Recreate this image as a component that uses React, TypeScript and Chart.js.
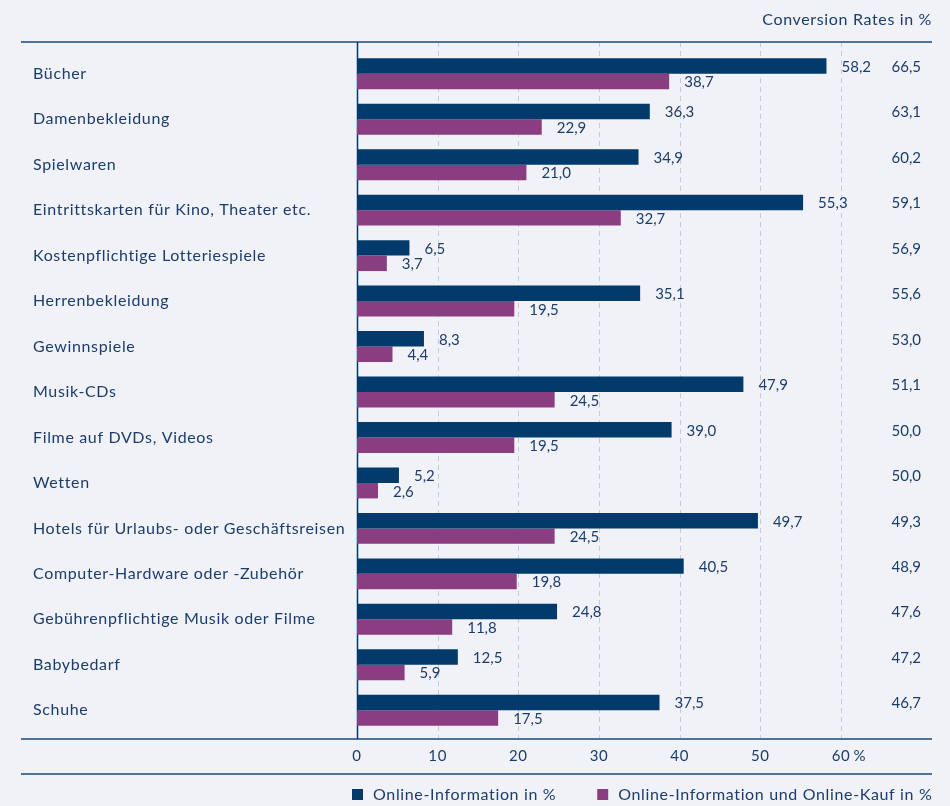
import React, { useEffect, useRef } from "react";
import { Chart, registerables } from "chart.js";

Chart.register(...registerables);

const categories = [
  "Bücher",
  "Damenbekleidung",
  "Spielwaren",
  "Eintrittskarten für Kino, Theater etc.",
  "Kostenpflichtige Lotteriespiele",
  "Herrenbekleidung",
  "Gewinnspiele",
  "Musik-CDs",
  "Filme auf DVDs, Videos",
  "Wetten",
  "Hotels für Urlaubs- oder Geschäftsreisen",
  "Computer-Hardware oder -Zubehör",
  "Gebührenpflichtige Musik oder Filme",
  "Babybedarf",
  "Schuhe",
];

const onlineInfo = [58.2, 36.3, 34.9, 55.3, 6.5, 35.1, 8.3, 47.9, 39.0, 5.2, 49.7, 40.5, 24.8, 12.5, 37.5];
const onlineKauf = [38.7, 22.9, 21.0, 32.7, 3.7, 19.5, 4.4, 24.5, 19.5, 2.6, 24.5, 19.8, 11.8, 5.9, 17.5];
const conversionRates = [66.5, 63.1, 60.2, 59.1, 56.9, 55.6, 53.0, 51.1, 50.0, 50.0, 49.3, 48.9, 47.6, 47.2, 46.7];

const xTicks = [0, 10, 20, 30, 40, 50, 60];
const seriesLabels = ["Online-Information in %", "Online-Information und Online-Kauf in %"];
const headerText = "Conversion Rates in %";

const NAVY = "#013a6b";
const PURPLE = "#8a3d81";
const TEXT = "#1c3d6b";
const LINE = "#4f739c";
const GRID = "#c3cad9";
const BG = "#f1f2f7";
const FONT = "Lato, 'Open Sans', sans-serif";
const SPACING = "0.65px";

const fmt = (v: number) => v.toFixed(1).replace(".", ",");

const decorPlugin = {
  id: "decor",
  beforeDraw(chart: any) {
    const { ctx, width, height } = chart;
    ctx.save();
    ctx.fillStyle = BG;
    ctx.fillRect(0, 0, width, height);
    ctx.restore();
    (ctx as any).letterSpacing = SPACING;
  },
  beforeDatasetsDraw(chart: any) {
    const { ctx, chartArea, scales } = chart;
    (ctx as any).letterSpacing = "0px";
    const xs = scales.x;
    const top = chartArea.top - 9;
    const bottom = chartArea.bottom + 6;
    ctx.save();
    ctx.strokeStyle = GRID;
    ctx.lineWidth = 1;
    ctx.setLineDash([5, 4]);
    xTicks.forEach((t) => {
      if (t === 0) return;
      const x = Math.round(xs.getPixelForValue(t)) + 0.5;
      ctx.beginPath();
      ctx.moveTo(x, top);
      ctx.lineTo(x, bottom);
      ctx.stroke();
    });
    ctx.setLineDash([]);
    ctx.strokeStyle = LINE;
    ctx.lineWidth = 2;
    [top, bottom, bottom + 35].forEach((y) => {
      ctx.beginPath();
      ctx.moveTo(21, y);
      ctx.lineTo(932, y);
      ctx.stroke();
    });
    const x0 = Math.round(xs.getPixelForValue(0)) + 0.5;
    ctx.strokeStyle = NAVY;
    ctx.lineWidth = 1.5;
    ctx.beginPath();
    ctx.moveTo(x0, top);
    ctx.lineTo(x0, bottom);
    ctx.stroke();
    ctx.restore();
  },
  afterDatasetsDraw(chart: any) {
    const { ctx, chartArea, scales } = chart;
    const xs = scales.x;
    ctx.save();
    (ctx as any).letterSpacing = "0px";
    ctx.font = `15px ${FONT}`;
    ctx.fillStyle = TEXT;
    ctx.textBaseline = "middle";
    ctx.textAlign = "left";
    chart.data.datasets.forEach((ds: any, di: number) => {
      const meta = chart.getDatasetMeta(di);
      meta.data.forEach((bar: any, i: number) => {
        ctx.fillText(fmt(ds.data[i]), bar.x + 15, bar.y + 1);
      });
    });
    ctx.textAlign = "right";
    const meta0 = chart.getDatasetMeta(0);
    conversionRates.forEach((v, i) => {
      ctx.fillText(fmt(v), 921, meta0.data[i].y + 1);
    });
    // percent after last tick
    ctx.textAlign = "left";
    const last = xTicks[xTicks.length - 1];
    const lastW = ctx.measureText(String(last)).width;
    ctx.fillText(" %", xs.getPixelForValue(last) + lastW / 2, chartArea.bottom + 23);
    // header and legend in wider text
    (ctx as any).letterSpacing = SPACING;
    ctx.font = `16px ${FONT}`;
    ctx.textAlign = "right";
    ctx.fillText(headerText, 932, 20);
    ctx.textAlign = "left";
    const colors = [NAVY, PURPLE];
    let x = 352;
    const ly = 795;
    seriesLabels.forEach((lab, i) => {
      ctx.fillStyle = colors[i];
      ctx.fillRect(x, ly - 6, 11, 11);
      ctx.fillStyle = TEXT;
      ctx.fillText(lab, x + 21, ly);
      x = x + 21 + ctx.measureText(lab).width + 41;
    });
    ctx.restore();
  },
};

export default function App() {
  const ref = useRef<HTMLCanvasElement | null>(null);
  useEffect(() => {
    if (!ref.current) return;
    const chart = new Chart(ref.current, {
      type: "bar",
      data: {
        labels: categories,
        datasets: [
          { label: seriesLabels[0], data: onlineInfo, backgroundColor: NAVY, borderWidth: 0 },
          { label: seriesLabels[1], data: onlineKauf, backgroundColor: PURPLE, borderWidth: 0 },
        ],
      },
      options: {
        indexAxis: "y",
        responsive: false,
        animation: false,
        devicePixelRatio: 1,
        layout: { padding: { left: 33, right: 109, top: 51, bottom: 0 } },
        datasets: { bar: { categoryPercentage: 0.68, barPercentage: 1.0 } },
        plugins: { legend: { display: false }, tooltip: { enabled: false } },
        scales: {
          x: {
            type: "linear",
            position: "bottom",
            min: 0,
            max: 60,
            border: { display: false },
            grid: { display: false, drawTicks: false },
            afterFit: (s: any) => {
              s.height = 73;
            },
            ticks: {
              stepSize: 10,
              padding: 14,
              color: TEXT,
              font: { family: FONT, size: 15 },
              maxRotation: 0,
            },
          },
          y: {
            type: "category",
            position: "left",
            border: { display: false },
            grid: { display: false, drawTicks: false },
            afterFit: (s: any) => {
              s.width = 324;
            },
            ticks: {
              crossAlign: "far",
              color: TEXT,
              font: { family: FONT, size: 16 },
            },
          },
        },
      },
      plugins: [decorPlugin],
    } as any);
    return () => chart.destroy();
  }, []);
  return (
    <div style={{ position: "absolute", left: 0, top: 0, width: 950, height: 806, background: BG }}>
      <canvas ref={ref} width={950} height={806} style={{ display: "block" }} />
    </div>
  );
}
